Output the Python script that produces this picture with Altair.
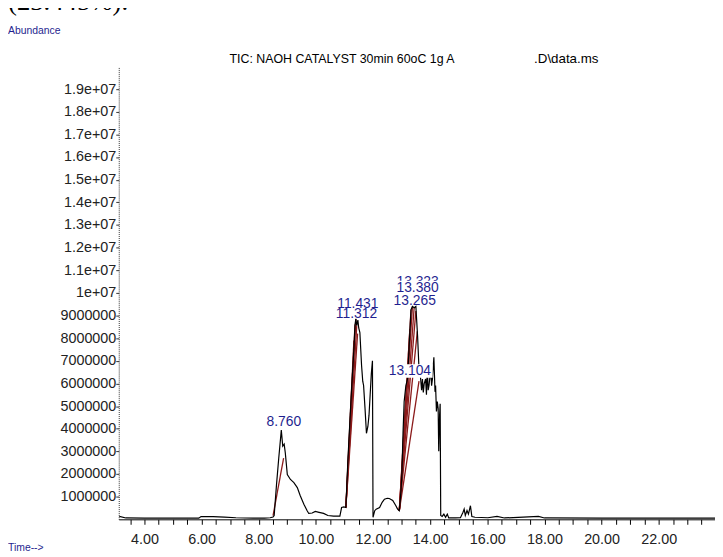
import altair as alt
import pandas as pd

# ---- TIC trace (retention time in min, abundance in millions) ----
times = [3.12, 3.35, 4.00, 5.00, 5.90, 5.98, 6.40, 6.80, 7.20, 7.80, 8.20, 8.40, 8.50, 8.54,
         8.62, 8.70, 8.79, 8.84, 8.89, 8.93, 9.00, 9.11, 9.23, 9.35, 9.45, 9.58, 9.69, 9.75,
         9.87, 9.98, 10.11, 10.27, 10.42, 10.62, 10.84, 10.90, 10.98, 11.05, 11.12, 11.19,
         11.25, 11.33, 11.37, 11.40, 11.43, 11.47, 11.50, 11.54, 11.60, 11.64, 11.67, 11.72,
         11.77, 11.82, 11.86, 11.94, 11.98, 12.00, 12.06, 12.11, 12.23, 12.32, 12.40, 12.50,
         12.57, 12.69, 12.80, 12.86, 12.92, 12.97, 13.01, 13.05, 13.09, 13.15, 13.21, 13.27,
         13.33, 13.38, 13.44, 13.50, 13.56, 13.61, 13.66, 13.70, 13.73, 13.76, 13.79, 13.84,
         13.87, 13.90, 13.93, 13.96, 14.02, 14.05, 14.08, 14.13, 14.17, 14.19, 14.22, 14.25,
         14.28, 14.30, 14.33, 14.35, 14.37, 14.42, 14.48, 14.54, 14.60, 14.65, 14.88, 15.06,
         15.15, 15.19, 15.23, 15.29, 15.34, 15.41, 15.46, 15.57, 16.02, 16.34, 16.60, 17.79,
         18.00, 20.00, 22.00, 23.97]
abund_m = [0.13, 0.06, 0.05, 0.05, 0.05, 0.12, 0.12, 0.10, 0.07, 0.05, 0.05, 0.07, 0.10, 0.17,
           1.50, 2.70, 3.94, 3.23, 3.32, 2.93, 1.98, 1.76, 1.62, 1.40, 1.05, 0.67, 0.39, 0.26,
           0.28, 0.35, 0.31, 0.26, 0.17, 0.14, 0.14, 0.52, 0.55, 0.52, 2.60, 4.32,
           5.76, 7.51, 8.60, 8.85, 8.55, 8.80, 8.45, 8.25, 6.78, 6.10, 5.91, 4.90,
           3.80, 4.10, 4.60, 6.42, 7.00, 0.09, 0.38, 0.45, 0.52, 0.75, 0.89, 0.93,
           0.92, 0.83, 0.60, 0.45, 0.38, 1.10, 1.98, 3.80, 5.20, 5.90, 6.20, 7.80,
           9.26, 9.40, 9.34, 9.40, 8.09, 6.64, 6.30, 5.70, 6.20, 5.60, 5.98, 6.20,
           5.50, 6.72, 5.70, 5.91, 6.64, 5.90, 6.20, 7.16, 5.63, 5.91, 4.76, 5.20,
           4.89, 3.01, 4.60, 5.10, 0.17, 0.13, 0.23, 0.09, 0.23, 0.06, 0.06, 0.07,
           0.31, 0.45, 0.17, 0.39, 0.23, 0.60, 0.12, 0.09, 0.07, 0.13, 0.06, 0.13,
           0.06, 0.05, 0.05, 0.05]

# ---- integration baselines (red) ----
seg_t0 = [8.50, 11.05, 11.05, 11.05, 11.05, 11.05, 12.92, 12.92, 12.92, 12.92, 12.92, 12.92, 12.92]
seg_a0 = [0.16, 0.52, 0.52, 0.52, 0.52, 0.52, 0.38, 0.38, 0.38, 0.38, 0.38, 0.38, 0.38]
seg_t1 = [8.87, 11.33, 11.37, 11.40, 11.43, 11.46, 13.29, 13.33, 13.38, 13.44, 13.50, 13.55, 13.61]
seg_a1 = [2.70, 7.90, 8.60, 8.85, 8.55, 8.20, 8.40, 9.26, 9.40, 9.34, 9.20, 8.30, 6.10]

# ---- peak labels ----
lab_text = ["8.760", "11.431", "11.312", "13.380", "13.265", "13.104"]
lab_t = [8.88, 11.47, 11.42, 13.56, 13.46, 13.29]
lab_a = [4.28, 9.52, 9.08, 10.22, 9.65, 6.55]
ghost_text = ["13.323"]
ghost_t = [13.56]
ghost_a = [10.50]
box_t = [13.56, 13.29]
box_a = [10.23, 6.55]

# ---- axis ticks ----
x_ticks = [3.5 + 0.5 * i for i in range(41)]
y_ticks = [1e6 * i for i in range(1, 20)]

BLUE = "#1f1f8f"
RED = "#8b1a1a"
FONT = "Liberation Sans"

trace = pd.DataFrame({"t": times, "a": [v * 1e6 for v in abund_m]})
segs = pd.DataFrame({"t0": seg_t0, "a0": [v * 1e6 for v in seg_a0],
                     "t1": seg_t1, "a1": [v * 1e6 for v in seg_a1]})
labels = pd.DataFrame({"text": lab_text, "t": lab_t, "a": [v * 1e6 for v in lab_a]})
ghost = pd.DataFrame({"text": ghost_text, "t": ghost_t, "a": [v * 1e6 for v in ghost_a]})
boxes = pd.DataFrame({"t": box_t, "a": [v * 1e6 for v in box_a]})

xscale = alt.Scale(domain=[3.10, 23.97], nice=False, zero=False)
yscale = alt.Scale(domain=[0, 2e7], nice=False)

x_axis = alt.Axis(values=x_ticks, tickCount=100,
                  labelExpr="datum.value % 2 == 0 ? format(datum.value, '.2f') : ''",
                  tickSize=5, tickColor="black", domainColor="black", domainWidth=1,
                  labelFont=FONT, labelFontSize=14.5, labelColor="#222", labelPadding=8,
                  labelOverlap=False, labelFlush=False, grid=False, title=None)
y_axis = alt.Axis(values=y_ticks, tickCount=100,
                  labelExpr="datum.value < 1e7 ? format(datum.value, 'd') : (datum.value == 1e7 ? '1e+07' : format(datum.value / 1e7, '.1f') + 'e+07')",
                  tickSize=3, tickColor="#333", domainColor="#333", domainDash=[1, 1],
                  labelFont=FONT, labelFontSize=14.5, labelColor="#222", labelPadding=0,
                  labelOverlap=False, labelFlush=False, grid=False, title=None)

line = alt.Chart(trace).mark_line(color="black", strokeWidth=1.2).encode(
    x=alt.X("t:Q", scale=xscale, axis=x_axis),
    y=alt.Y("a:Q", scale=yscale, axis=y_axis),
)

red = alt.Chart(segs).mark_rule(color=RED, strokeWidth=1.3).encode(
    x=alt.X("t0:Q", scale=xscale), x2="t1:Q",
    y=alt.Y("a0:Q", scale=yscale), y2="a1:Q",
)

ghost_layer = alt.Chart(ghost).mark_text(color=BLUE, font=FONT, fontSize=14).encode(
    x=alt.X("t:Q", scale=xscale), y=alt.Y("a:Q", scale=yscale), text="text:N")

box_layer = alt.Chart(boxes).mark_point(
    shape="M-1,-0.3H1V0.3H-1Z", size=2116, filled=True, fill="white",
    stroke=None, opacity=1).encode(
    x=alt.X("t:Q", scale=xscale), y=alt.Y("a:Q", scale=yscale))

label_layer = alt.Chart(labels).mark_text(color=BLUE, font=FONT, fontSize=14).encode(
    x=alt.X("t:Q", scale=xscale), y=alt.Y("a:Q", scale=yscale), text="text:N")


def note(txt, px, py, size, color, font=FONT, baseline="middle"):
    return alt.Chart(pd.DataFrame({"text": [txt]})).mark_text(
        align="left", baseline=baseline, fontSize=size, color=color, font=font
    ).encode(x=alt.value(px), y=alt.value(py), text="text:N")


title1 = note("TIC: NAOH CATALYST 30min 60oC 1g A", 112, -7, 12.5, "black")
title2 = note(".D\\data.ms", 420, -7, 13.5, "black")
abund = note("Abundance", -112, -36, 10.5, BLUE)
timel = note("Time-->", -112, 487, 10.5, BLUE)
top_txt = note("(23.445%).", -112, -57, 27, "black", font="Liberation Serif",
               baseline="alphabetic")

chart = alt.layer(
    red, line, ghost_layer, box_layer, label_layer,
    title1, title2, abund, timel, top_txt
).properties(
    width=603, height=458,
    padding={"left": 112, "top": 56, "right": 0, "bottom": 35},
    autosize=alt.AutoSizeParams(type="none"),
    background="white",
).configure_view(stroke=None)

chart.save("out.html", embed_options={"renderer": "svg", "actions": False})
